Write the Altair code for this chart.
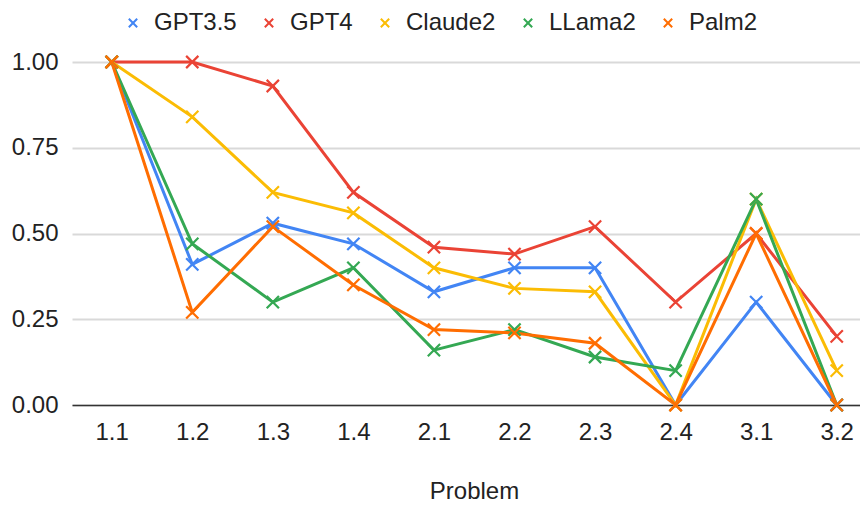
import json
import altair as alt
import pandas as pd

problems = ["1.1", "1.2", "1.3", "1.4", "2.1", "2.2", "2.3", "2.4", "3.1", "3.2"]
models = ["GPT3.5", "GPT4", "Claude2", "LLama2", "Palm2"]
gpt35 = [1.0, 0.41, 0.53, 0.47, 0.33, 0.40, 0.40, 0.0, 0.30, 0.0]
gpt4 = [1.0, 1.0, 0.93, 0.62, 0.46, 0.44, 0.52, 0.30, 0.50, 0.20]
claude2 = [1.0, 0.84, 0.62, 0.56, 0.40, 0.34, 0.33, 0.0, 0.60, 0.10]
llama2 = [1.0, 0.47, 0.30, 0.40, 0.16, 0.22, 0.14, 0.10, 0.60, 0.0]
palm2 = [1.0, 0.27, 0.52, 0.35, 0.22, 0.21, 0.18, 0.0, 0.50, 0.0]
colors = ["#4285F4", "#EA4335", "#FBBC04", "#34A853", "#FF6D01"]
y_ticks = [0, 0.25, 0.5, 0.75, 1.0]

series = [gpt35, gpt4, claude2, llama2, palm2]
rows = []
for mi, (m, vals) in enumerate(zip(models, series)):
    for pi, (p, v) in enumerate(zip(problems, vals)):
        rows.append({"Model": m, "Problem": p, "Score": v, "mi": mi, "pi": pi})
df = pd.DataFrame(rows)

XPATH = "M-1,-1L1,1M-1,1L1,-1"
FONT = "Liberation Sans"
FS = 24

legend = alt.Legend(
    orient="none", legendX=49, legendY=-51, direction="horizontal",
    symbolType=XPATH, symbolSize=70, symbolStrokeWidth=2,
    labelFontSize=FS, labelFont=FONT, labelColor="#222222",
    labelOffset=9, columnPadding=20, padding=0,
)
color = alt.Color("Model:N", sort=models,
                  scale=alt.Scale(domain=models, range=colors),
                  legend=legend, title=None)
x = alt.X("pi:Q",
          scale=alt.Scale(domain=[-0.493, 9.289], nice=False, zero=False),
          axis=alt.Axis(title="Problem", values=list(range(len(problems))),
                        labelExpr=json.dumps(problems) + "[datum.value]",
                        labelAngle=0, ticks=False, grid=False,
                        domainColor="#333333", domainWidth=1.5,
                        labelFontSize=FS, labelFont=FONT, labelColor="#222222",
                        labelPadding=15, labelFlush=False, labelOverlap=False,
                        titleFontSize=FS, titleFont=FONT,
                        titleFontWeight="normal", titleColor="#222222",
                        titleX=402, titleY=93, titleBaseline="alphabetic"))
y = alt.Y("Score:Q", scale=alt.Scale(domain=[0, 1], nice=False),
          axis=alt.Axis(title=None, values=y_ticks, format=".2f", ticks=False,
                        domain=False, gridColor="#d9d9d9", gridWidth=2,
                        labelFontSize=FS, labelFont=FONT, labelColor="#222222",
                        labelPadding=14))

lines = alt.Chart(df).mark_line(strokeWidth=3).encode(
    x=x, y=y, color=color, order="pi:Q", detail="Model:N")
points = alt.Chart(df).mark_point(shape=XPATH, filled=False, strokeWidth=2.2,
                                  size=150, opacity=1).encode(
    x=x, y=y, color=color)

chart = alt.layer(lines, points).properties(
    width=788, height=343,
    padding={"left": 64, "top": 54, "right": 0, "bottom": 99},
    autosize="none",
).configure_view(stroke=None)

chart.save("out.html", embed_options={"renderer": "svg", "actions": False})
